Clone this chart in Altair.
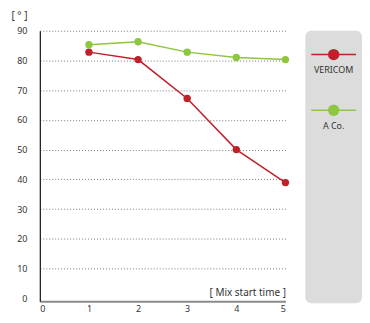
import altair as alt
import pandas as pd

# ---- data ----
mix_start = [1, 2, 3, 4, 5]
vericom = [82.8, 80.3, 67.2, 50.0, 38.9]
a_co = [85.3, 86.3, 82.8, 81.0, 80.3]
series = ["VERICOM", "A Co."]
colors = ["#c0202a", "#8dc63f"]
x_ticks = [0, 1, 2, 3, 4, 5]
y_ticks = [0, 10, 20, 30, 40, 50, 60, 70, 80, 90]

rows = []
for s, vals in zip(series, [vericom, a_co]):
    for x, v in zip(mix_start, vals):
        rows.append({"series": s, "t": x, "v": v})
df = pd.DataFrame(rows)
leg_df = pd.DataFrame({"series": series})

FONT = "Noto Sans"
color = alt.Color("series:N", scale=alt.Scale(domain=series, range=colors), legend=None)

x_enc = alt.X(
    "t:Q",
    scale=alt.Scale(domain=[0, 5], nice=False),
    axis=alt.Axis(
        values=x_ticks, grid=False, ticks=False, tickSize=0,
        domainColor="#8a8a8a", domainWidth=2,
        labelPadding=3, labelFontSize=9, labelColor="#333333", labelFont=FONT,
        title="[ Mix start time ]", titleFont=FONT, titleFontSize=10,
        titleFontWeight="normal", titleColor="#333333",
        titleAlign="right", titleAnchor="end", titleX=247, titleY=-9,
        titleBaseline="middle",
    ),
)
y_enc = alt.Y(
    "v:Q",
    scale=alt.Scale(domain=[-1.0, 90], nice=False, zero=False),
    axis=alt.Axis(
        values=y_ticks, grid=True, gridDash=[1, 2], gridColor="#777777", gridWidth=1,
        gridOpacity=alt.condition("datum.value == 0", alt.value(0), alt.value(1)),
        ticks=False, tickSize=0, domainColor="#111111", domainWidth=1.2,
        labelPadding=13, labelFontSize=9, labelColor="#333333", labelFont=FONT,
        title="[ ° ]", titleAngle=0, titleFont=FONT, titleFontSize=10,
        titleFontWeight="normal", titleColor="#333333",
        titleAlign="center", titleBaseline="middle", titleX=-21, titleY=-15,
    ),
)

base = alt.Chart(df).encode(x=x_enc, y=y_enc, color=color)
lines = base.mark_line(strokeWidth=1.5)
points = base.mark_circle(size=55, opacity=1)
main = alt.layer(lines, points).properties(width=247, height=272)

# ---- legend panel ----
ly = alt.Y("series:N",
           scale=alt.Scale(type="point", domain=series, range=[24, 80], padding=0),
           axis=None)
lbase = alt.Chart(leg_df).encode(y=ly, color=color)
lrule = lbase.mark_rule(strokeWidth=1.5).encode(x=alt.value(6), x2=alt.value(51))
lpt = lbase.mark_circle(size=130, opacity=1).encode(x=alt.value(28.5))
ltxt = alt.Chart(leg_df).mark_text(
    dy=16, fontSize=9, font=FONT, color="#333333", align="center", baseline="middle"
).encode(y=ly, x=alt.value(28.5), text="series:N")
legend = alt.layer(lrule, lpt, ltxt).properties(
    width=57, height=274,
    view=alt.ViewBackground(fill="#dcdcdc", cornerRadius=6, stroke=None),
)

chart = alt.hconcat(main, legend, spacing=16).properties(
    padding={"left": 2, "top": 2, "right": 0, "bottom": 0}
).configure_view(stroke=None)

chart.save("out.html", embed_options={"renderer": "svg", "actions": False})
